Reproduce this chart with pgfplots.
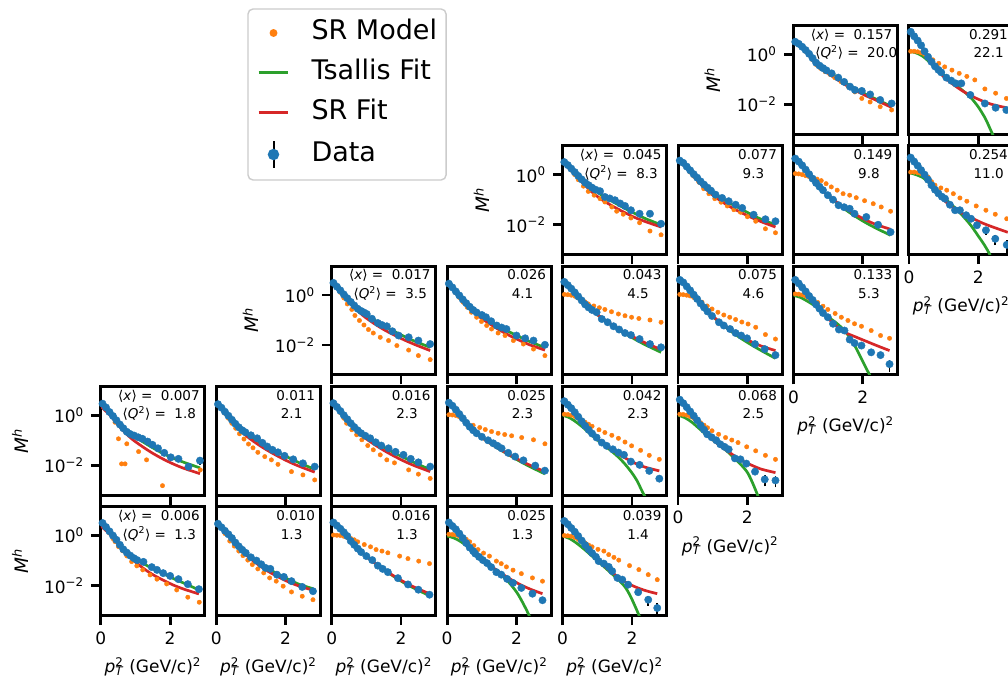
\documentclass[border=0pt]{standalone}
\usepackage{fontspec}
\setmainfont{DejaVu Sans}
\usepackage{pgfplots}
\pgfplotsset{compat=1.18}
\definecolor{cB}{HTML}{1F77B4}
\definecolor{cO}{HTML}{FF7F0E}
\definecolor{cG}{HTML}{2CA02C}
\definecolor{cR}{HTML}{D62728}
\newcommand\annfont{\fontsize{13.5}{16}\selectfont}
\newcommand\ann[2]{%
 \node[anchor=base east,inner sep=0pt,font=\annfont] (a) at (rel axis cs:0.952,0.874) {#1};
 \node[anchor=base west,inner sep=0pt,font=\annfont] at ([xshift=4.5pt,yshift=-18.6pt]a.base west) {#2};}
\newcommand\annx[2]{\ann{⟨\textit{x}⟩ = \ #1}{⟨\textit{Q}\textsuperscript{2}⟩ = \ #2}}
% y values are log10(M^h); the axis is labelled in powers of ten
\pgfplotsset{
 mypanel/.style={anchor=south west, scale only axis, width=104pt, height=108.8pt,
   xmin=0, xmax=3, ymin=-3.19, ymax=1.15,
   xtick={0,2}, xticklabels={{},{}}, ytick=\empty,
   xtick pos=left, ytick pos=left, tick align=outside,
   major tick length=9.5pt, tick style={line width=2.8pt, black},
   axis line style={line width=3pt},
   tick label style={font=\fontsize{17}{19}\selectfont},
   yticklabel style={xshift=-4pt}, xticklabel style={yshift=-3pt}},
 myylab/.style={ytick={-2,0}, yticklabels={{10\textsuperscript{−2}},{10\textsuperscript{0}}},
   ylabel={\textit{M}\textsuperscript{\textit{h}}},
   every axis y label/.style={at={(axis description cs:-0.777,0.5)}, rotate=90, anchor=center, font=\fontsize{18.5}{20}\selectfont}},
 myxlab/.style={xticklabels={0,2},
   xlabel={\textit{p}\rlap{\textsuperscript{2}}\textsubscript{\textit{T}} (GeV/c)\textsuperscript{2}},
   every axis x label/.style={at={(axis description cs:0.5,-0.47)}, anchor=center, font=\fontsize{17}{19}\selectfont}},
 pSM/.style={only marks, color=cO, mark=*, mark size=2.2pt, mark options={draw=none}},
 pTS/.style={no marks, color=cG, line width=2.7pt, smooth},
 pSF/.style={no marks, color=cR, line width=2.7pt, smooth},
 pDT/.style={only marks, color=cB, mark=*, mark size=3.7pt, mark options={draw=none}},
 pEB/.style={no marks, color=black, line width=1.6pt},
}
\begin{document}
\begin{tikzpicture}
\useasboundingbox (0,0) rectangle (1008pt,678pt);
\fill[white] (0,0) rectangle (1008pt,678pt);
\clip (0,0) rectangle (1008pt,678pt);

% ---------------- legend
\begin{axis}[hide axis, scale only axis, width=10pt, height=10pt, at={(247.3pt,669.7pt)}, anchor=north west, xmin=0, xmax=1, ymin=0, ymax=1,
 legend style={at={(0,1)}, anchor=north west, draw=black!20, line width=1.4pt, rounded corners=5pt, fill=white,
   inner xsep=9pt, inner ysep=11pt, row sep=14pt, column sep=0pt,
   font=\fontsize{27}{31}\selectfont, nodes={inner sep=0pt, text height=20pt, text depth=6pt}, legend cell align=left}]
\addlegendimage{legend image code/.code={\path (0pt,0pt) (52.3pt,0pt); \fill[cO] (15pt,0pt) circle (3.2pt);}}
\addlegendentry{SR Model}
\addlegendimage{legend image code/.code={\path (0pt,0pt) (52.3pt,0pt); \draw[cG, line width=3pt] (0pt,0pt) -- (29.7pt,0pt);}}
\addlegendentry{Tsallis Fit}
\addlegendimage{legend image code/.code={\path (0pt,0pt) (52.3pt,0pt); \draw[cR, line width=3pt] (0pt,0pt) -- (29.7pt,0pt);}}
\addlegendentry{SR Fit}
\addlegendimage{legend image code/.code={\path (0pt,0pt) (52.3pt,0pt); \draw[black, line width=2pt] (15pt,-13.5pt) -- (15pt,13.5pt); \fill[cB] (15pt,0pt) circle (5pt);}}
\addlegendentry{Data}
\end{axis}

% ================= row 5
\begin{axis}[mypanel, myylab, myxlab, at={(100.8pt,62.5pt)}]
\addplot[pSM] coordinates {(0.05,0.5)(0.15,0.32)(0.25,0.1)(0.35,-0.12)(0.41,-0.24)(0.51,-0.44)(0.63,-0.61)(0.75,-0.81)(0.89,-1.04)(1.04,-1.21)(1.21,-1.37)(1.42,-1.57)(1.62,-1.74)(1.9,-1.93)(2.19,-2.17)(2.51,-2.46)(2.84,-2.66)};
\addplot[pTS] coordinates {(0,0.52)(0.3,0.08)(0.6,-0.47)(0.9,-0.85)(1.2,-1.1)(1.5,-1.32)(1.8,-1.52)(2.1,-1.72)(2.4,-1.9)(2.83,-2.17)};
\addplot[pSF] coordinates {(0,0.38)(0.3,0.0)(0.6,-0.5)(0.9,-0.93)(1.2,-1.28)(1.5,-1.56)(1.8,-1.78)(2.1,-1.98)(2.4,-2.14)(2.83,-2.33)};
\addplot[pDT] coordinates {(0.05,0.5)(0.15,0.34)(0.25,0.17)(0.35,0.0)(0.45,-0.17)(0.55,-0.37)(0.65,-0.55)(0.75,-0.68)(0.85,-0.8)(0.95,-0.9)(1.05,-0.98)(1.23,-1.05)(1.47,-1.26)(1.62,-1.37)(1.8,-1.5)(2.0,-1.61)(2.24,-1.74)(2.51,-1.94)(2.83,-2.14)};
\annx{0.006}{1.3}
\end{axis}

\begin{axis}[mypanel, myxlab, at={(216.25pt,62.5pt)}]
\addplot[pSM] coordinates {(0.05,0.47)(0.15,0.3)(0.25,0.08)(0.39,-0.22)(0.52,-0.42)(0.65,-0.62)(0.77,-0.8)(0.91,-0.98)(1.04,-1.16)(1.2,-1.33)(1.37,-1.49)(1.54,-1.69)(1.73,-1.82)(1.93,-2.02)(2.17,-2.25)(2.48,-2.42)(2.79,-2.56)};
\addplot[pTS] coordinates {(0,0.5)(0.3,0.12)(0.6,-0.35)(0.9,-0.76)(1.2,-1.05)(1.5,-1.33)(1.8,-1.55)(2.1,-1.76)(2.4,-1.95)(2.79,-2.12)};
\addplot[pSF] coordinates {(0,0.48)(0.3,0.1)(0.6,-0.38)(0.9,-0.82)(1.2,-1.15)(1.5,-1.43)(1.8,-1.66)(2.1,-1.86)(2.4,-2.02)(2.79,-2.18)};
\addplot[pDT] coordinates {(0.05,0.47)(0.15,0.33)(0.25,0.19)(0.35,0.05)(0.45,-0.1)(0.55,-0.28)(0.65,-0.43)(0.75,-0.57)(0.85,-0.69)(1.0,-0.87)(1.16,-1.0)(1.3,-1.15)(1.42,-1.29)(1.56,-1.33)(1.75,-1.56)(1.95,-1.65)(2.17,-1.82)(2.48,-2.05)(2.79,-2.22)};
\ann{0.010}{1.3}
\end{axis}

\begin{axis}[mypanel, myxlab, at={(331.7pt,62.5pt)}]
\addplot[pSM] coordinates {(0.05,0.02)(0.15,0.01)(0.25,0.0)(0.35,-0.03)(0.45,-0.08)(0.55,-0.12)(0.65,-0.17)(0.75,-0.25)(0.94,-0.36)(1.12,-0.45)(1.28,-0.56)(1.45,-0.62)(1.62,-0.69)(1.96,-0.82)(2.2,-0.92)(2.51,-1.02)(2.82,-1.12)};
\addplot[pTS] coordinates {(0,0.55)(0.3,0.18)(0.6,-0.3)(0.9,-0.72)(1.2,-1.05)(1.5,-1.36)(1.8,-1.64)(2.1,-1.9)(2.4,-2.12)(2.82,-2.4)};
\addplot[pSF] coordinates {(0,0.55)(0.3,0.18)(0.6,-0.3)(0.9,-0.72)(1.2,-1.05)(1.5,-1.35)(1.8,-1.62)(2.1,-1.86)(2.4,-2.07)(2.82,-2.32)};
\addplot[pDT] coordinates {(0.05,0.52)(0.15,0.4)(0.25,0.27)(0.35,0.13)(0.45,-0.02)(0.55,-0.22)(0.65,-0.37)(0.75,-0.52)(0.85,-0.66)(1.0,-0.82)(1.17,-0.98)(1.33,-1.2)(1.47,-1.33)(1.62,-1.46)(1.91,-1.7)(2.2,-1.95)(2.5,-2.16)(2.82,-2.36)};
\ann{0.016}{1.3}
\end{axis}

\begin{axis}[mypanel, myxlab, at={(447.15pt,62.5pt)}]
\addplot[pSM] coordinates {(0.05,0.05)(0.15,0.04)(0.25,0.02)(0.35,-0.03)(0.45,-0.08)(0.55,-0.15)(0.65,-0.25)(0.77,-0.4)(0.89,-0.56)(1.05,-0.7)(1.22,-0.82)(1.42,-1.02)(1.56,-1.12)(1.71,-1.25)(1.9,-1.38)(2.14,-1.52)(2.46,-1.69)(2.75,-1.82)};
\addplot[pTS] coordinates {(0,-0.02)(0.2,-0.1)(0.4,-0.25)(0.6,-0.45)(0.8,-0.68)(1.0,-0.92)(1.2,-1.15)(1.4,-1.38)(1.6,-1.62)(1.8,-1.9)(2.0,-2.25)(2.15,-2.6)(2.3,-3.0)(2.4,-3.3)};
\addplot[pSF] coordinates {(0,0.55)(0.3,0.15)(0.6,-0.35)(0.9,-0.78)(1.2,-1.15)(1.5,-1.45)(1.8,-1.72)(2.1,-1.95)(2.4,-2.14)(2.75,-2.32)};
\addplot[pDT] coordinates {(0.05,0.52)(0.15,0.38)(0.25,0.25)(0.35,0.08)(0.45,-0.1)(0.55,-0.3)(0.65,-0.48)(0.75,-0.62)(0.81,-0.72)(0.92,-0.85)(1.03,-0.98)(1.15,-1.1)(1.27,-1.26)(1.42,-1.46)(1.56,-1.56)(1.73,-1.73)(1.9,-1.89)(2.14,-2.09)(2.46,-2.32)(2.75,-2.58)};
\ann{0.025}{1.3}
\end{axis}

\begin{axis}[mypanel, myxlab, at={(562.6pt,62.5pt)}]
\addplot[pSM] coordinates {(0.05,0.0)(0.15,-0.01)(0.25,-0.03)(0.35,-0.08)(0.45,-0.15)(0.55,-0.22)(0.65,-0.3)(0.75,-0.38)(0.85,-0.45)(1.02,-0.55)(1.19,-0.62)(1.33,-0.76)(1.48,-0.87)(1.62,-0.98)(1.93,-1.2)(2.2,-1.36)(2.47,-1.56)(2.73,-1.76)};
\addplot[pTS] coordinates {(0,-0.02)(0.2,-0.12)(0.4,-0.3)(0.6,-0.52)(0.8,-0.76)(1.0,-1.0)(1.2,-1.25)(1.4,-1.5)(1.6,-1.75)(1.8,-2.05)(1.95,-2.4)(2.1,-2.85)(2.24,-3.3)};
\addplot[pSF] coordinates {(0,0.6)(0.3,0.2)(0.6,-0.3)(0.9,-0.78)(1.2,-1.2)(1.5,-1.55)(1.8,-1.85)(2.1,-2.05)(2.4,-2.2)(2.73,-2.32)};
\addplot[pEB] coordinates {(2.47,-2.81)(2.47,-2.40)};
\addplot[pEB] coordinates {(2.73,-3.23)(2.73,-2.70)};
\addplot[pDT] coordinates {(0.05,0.58)(0.15,0.45)(0.25,0.3)(0.35,0.15)(0.45,-0.02)(0.55,-0.2)(0.65,-0.38)(0.75,-0.55)(0.85,-0.7)(0.96,-0.85)(1.04,-1.02)(1.19,-1.12)(1.33,-1.25)(1.43,-1.42)(1.58,-1.69)(1.72,-1.76)(1.89,-1.96)(2.18,-2.26)(2.47,-2.56)(2.73,-2.89)};
\ann{0.039}{1.4}
\end{axis}

% ================= row 4
\begin{axis}[mypanel, myylab, at={(100.8pt,182.8pt)}]
\addplot[pSM] coordinates {(0.05,0.46)(0.15,0.3)(0.25,0.1)(0.41,-0.28)(0.51,-0.94)(0.6,-1.94)(0.7,-1.94)(0.75,-1.14)(1.09,-1.45)(1.32,-1.78)(1.78,-2.81)(2.87,-2.18)};
\addplot[pTS] coordinates {(0,0.5)(0.3,0.05)(0.6,-0.45)(0.9,-0.78)(1.2,-1.05)(1.5,-1.3)(1.8,-1.53)(2.1,-1.72)(2.4,-1.88)(2.86,-2.1)};
\addplot[pSF] coordinates {(0,0.35)(0.3,-0.05)(0.6,-0.55)(0.9,-0.95)(1.2,-1.25)(1.5,-1.52)(1.8,-1.75)(2.1,-1.95)(2.4,-2.12)(2.86,-2.33)};
\addplot[pEB] coordinates {(2.86,-1.98)(2.86,-1.69)};
\addplot[pDT] coordinates {(0.05,0.46)(0.15,0.31)(0.25,0.13)(0.35,-0.03)(0.45,-0.2)(0.55,-0.37)(0.65,-0.52)(0.75,-0.66)(0.85,-0.75)(0.96,-0.81)(1.08,-0.88)(1.2,-0.94)(1.35,-1.05)(1.49,-1.18)(1.65,-1.32)(1.83,-1.5)(2.02,-1.68)(2.24,-1.74)(2.53,-2.05)(2.86,-1.81)};
\annx{0.007}{1.8}
\end{axis}

\begin{axis}[mypanel, at={(216.25pt,182.8pt)}]
\addplot[pSM] coordinates {(0.05,0.44)(0.15,0.28)(0.25,0.08)(0.35,-0.12)(0.45,-0.32)(0.56,-0.52)(0.67,-0.74)(0.8,-0.95)(0.93,-1.15)(1.06,-1.3)(1.2,-1.48)(1.4,-1.65)(1.59,-1.78)(1.78,-1.96)(2.17,-2.25)(2.5,-2.38)(2.84,-2.58)};
\addplot[pTS] coordinates {(0,0.47)(0.3,0.05)(0.6,-0.42)(0.9,-0.78)(1.2,-1.04)(1.5,-1.28)(1.8,-1.5)(2.1,-1.7)(2.4,-1.9)(2.84,-2.16)};
\addplot[pSF] coordinates {(0,0.47)(0.3,0.02)(0.6,-0.46)(0.9,-0.86)(1.2,-1.16)(1.5,-1.42)(1.8,-1.65)(2.1,-1.86)(2.4,-2.04)(2.84,-2.27)};
\addplot[pDT] coordinates {(0.05,0.44)(0.15,0.3)(0.25,0.14)(0.35,-0.02)(0.45,-0.18)(0.55,-0.34)(0.65,-0.48)(0.75,-0.6)(0.84,-0.68)(1.0,-0.8)(1.18,-0.92)(1.33,-1.1)(1.47,-1.25)(1.62,-1.38)(1.78,-1.48)(1.97,-1.62)(2.22,-1.76)(2.5,-1.92)(2.84,-2.05)};
\ann{0.011}{2.1}
\end{axis}

\begin{axis}[mypanel, at={(331.7pt,182.8pt)}]
\addplot[pSM] coordinates {(0.05,0.48)(0.15,0.3)(0.25,0.1)(0.35,-0.12)(0.43,-0.32)(0.58,-0.58)(0.72,-0.78)(0.87,-0.98)(1.04,-1.21)(1.2,-1.38)(1.4,-1.58)(1.59,-1.78)(1.81,-1.9)(2.22,-2.18)(2.5,-2.35)(2.84,-2.52)};
\addplot[pTS] coordinates {(0,0.5)(0.3,0.08)(0.6,-0.4)(0.9,-0.76)(1.2,-1.03)(1.5,-1.27)(1.8,-1.5)(2.1,-1.7)(2.4,-1.9)(2.84,-2.17)};
\addplot[pSF] coordinates {(0,0.5)(0.3,0.06)(0.6,-0.44)(0.9,-0.84)(1.2,-1.14)(1.5,-1.4)(1.8,-1.63)(2.1,-1.84)(2.4,-2.02)(2.84,-2.25)};
\addplot[pDT] coordinates {(0.05,0.48)(0.15,0.33)(0.25,0.17)(0.35,0.0)(0.45,-0.16)(0.55,-0.32)(0.65,-0.47)(0.75,-0.6)(0.85,-0.72)(0.97,-0.82)(1.11,-0.92)(1.27,-1.08)(1.43,-1.21)(1.64,-1.32)(1.84,-1.46)(2.07,-1.58)(2.28,-1.74)(2.5,-1.88)(2.84,-2.05)};
\ann{0.016}{2.3}
\end{axis}

\begin{axis}[mypanel, at={(447.15pt,182.8pt)}]
\addplot[pSM] coordinates {(0.05,0.02)(0.15,0.01)(0.25,-0.01)(0.35,-0.06)(0.45,-0.16)(0.56,-0.28)(0.75,-0.4)(0.94,-0.49)(1.1,-0.57)(1.28,-0.65)(1.47,-0.72)(1.66,-0.77)(1.86,-0.82)(2.15,-0.89)(2.49,-0.98)(2.82,-1.14)};
\addplot[pTS] coordinates {(0,0.52)(0.3,0.12)(0.6,-0.38)(0.9,-0.78)(1.2,-1.08)(1.5,-1.35)(1.8,-1.6)(2.1,-1.84)(2.4,-2.06)(2.82,-2.34)};
\addplot[pSF] coordinates {(0,0.52)(0.3,0.12)(0.6,-0.38)(0.9,-0.78)(1.2,-1.08)(1.5,-1.34)(1.8,-1.58)(2.1,-1.8)(2.4,-2.0)(2.82,-2.25)};
\addplot[pDT] coordinates {(0.05,0.5)(0.15,0.38)(0.25,0.22)(0.35,0.05)(0.45,-0.12)(0.55,-0.3)(0.65,-0.46)(0.75,-0.6)(0.85,-0.72)(1.0,-0.86)(1.18,-1.0)(1.33,-1.12)(1.45,-1.22)(1.57,-1.32)(1.76,-1.5)(1.96,-1.65)(2.2,-1.8)(2.54,-2.01)(2.82,-2.21)};
\ann{0.025}{2.3}
\end{axis}

\begin{axis}[mypanel, at={(562.6pt,182.8pt)}]
\addplot[pSM] coordinates {(0.05,0.04)(0.15,0.03)(0.25,0.0)(0.35,-0.05)(0.45,-0.12)(0.55,-0.2)(0.65,-0.28)(0.75,-0.36)(0.85,-0.44)(1.05,-0.58)(1.22,-0.69)(1.42,-0.8)(1.61,-0.92)(1.8,-1.07)(1.99,-1.22)(2.25,-1.4)(2.5,-1.6)(2.79,-1.76)};
\addplot[pTS] coordinates {(0,0.0)(0.2,-0.1)(0.4,-0.28)(0.6,-0.5)(0.8,-0.75)(1.0,-0.98)(1.2,-1.2)(1.4,-1.42)(1.6,-1.66)(1.8,-1.95)(2.0,-2.3)(2.15,-2.62)(2.3,-3.05)(2.4,-3.3)};
\addplot[pSF] coordinates {(0,0.58)(0.3,0.18)(0.6,-0.32)(0.9,-0.8)(1.2,-1.15)(1.5,-1.45)(1.8,-1.7)(2.1,-1.92)(2.4,-2.08)(2.79,-2.22)};
\addplot[pDT] coordinates {(0.05,0.56)(0.15,0.42)(0.25,0.28)(0.35,0.12)(0.45,-0.06)(0.55,-0.24)(0.65,-0.42)(0.75,-0.58)(0.85,-0.73)(0.98,-0.89)(1.13,-1.09)(1.27,-1.22)(1.45,-1.36)(1.61,-1.49)(1.77,-1.58)(1.97,-1.85)(2.22,-1.98)(2.5,-2.22)(2.79,-2.53)};
\ann{0.042}{2.3}
\end{axis}

\begin{axis}[mypanel, myxlab, at={(678.05pt,182.8pt)}]
\addplot[pSM] coordinates {(0.05,0.04)(0.15,0.03)(0.25,0.0)(0.35,-0.05)(0.45,-0.12)(0.55,-0.2)(0.65,-0.3)(0.75,-0.4)(0.85,-0.5)(0.98,-0.62)(1.17,-0.76)(1.37,-0.89)(1.55,-0.99)(1.73,-1.09)(1.98,-1.26)(2.24,-1.42)(2.52,-1.6)(2.81,-1.76)};
\addplot[pTS] coordinates {(0,0.0)(0.2,-0.1)(0.4,-0.28)(0.6,-0.52)(0.8,-0.76)(1.0,-0.98)(1.2,-1.2)(1.4,-1.42)(1.6,-1.68)(1.8,-1.95)(2.0,-2.28)(2.15,-2.7)(2.3,-3.2)(2.4,-3.5)};
\addplot[pSF] coordinates {(0,0.62)(0.3,0.2)(0.6,-0.32)(0.9,-0.84)(1.2,-1.2)(1.5,-1.5)(1.8,-1.78)(2.1,-1.98)(2.4,-2.15)(2.81,-2.29)};
\addplot[pEB] coordinates {(2.5,-2.84)(2.5,-2.39)};
\addplot[pEB] coordinates {(2.81,-2.88)(2.81,-2.43)};
\addplot[pDT] coordinates {(0.05,0.62)(0.15,0.48)(0.25,0.32)(0.35,0.15)(0.45,-0.02)(0.55,-0.2)(0.65,-0.4)(0.75,-0.58)(0.84,-0.76)(0.97,-0.88)(1.1,-1.0)(1.22,-1.16)(1.34,-1.26)(1.46,-1.36)(1.64,-1.72)(1.8,-1.76)(1.97,-1.93)(2.22,-2.25)(2.5,-2.56)(2.81,-2.6)};
\ann{0.068}{2.5}
\end{axis}

% ================= row 3
\begin{axis}[mypanel, myylab, at={(331.7pt,303.1pt)}]
\addplot[pSM] coordinates {(0.05,0.48)(0.15,0.3)(0.25,0.1)(0.35,-0.12)(0.45,-0.36)(0.58,-0.58)(0.67,-0.82)(0.8,-1.02)(0.93,-1.2)(1.06,-1.38)(1.2,-1.52)(1.4,-1.69)(1.64,-1.82)(1.88,-2.02)(2.22,-2.2)(2.5,-2.42)(2.84,-2.58)};
\addplot[pTS] coordinates {(0,0.5)(0.3,0.1)(0.6,-0.36)(0.9,-0.7)(1.2,-0.98)(1.5,-1.22)(1.8,-1.45)(2.1,-1.66)(2.4,-1.85)(2.84,-2.09)};
\addplot[pSF] coordinates {(0,0.48)(0.3,0.05)(0.6,-0.42)(0.9,-0.82)(1.2,-1.12)(1.5,-1.38)(1.8,-1.6)(2.1,-1.8)(2.4,-1.98)(2.84,-2.22)};
\addplot[pDT] coordinates {(0.05,0.48)(0.15,0.33)(0.25,0.18)(0.35,0.02)(0.45,-0.13)(0.55,-0.28)(0.65,-0.42)(0.75,-0.55)(0.85,-0.64)(0.93,-0.7)(1.01,-0.76)(1.16,-0.95)(1.33,-1.12)(1.45,-1.2)(1.59,-1.25)(1.75,-1.45)(1.93,-1.62)(2.22,-1.69)(2.5,-1.82)(2.84,-1.96)};
\annx{0.017}{3.5}
\end{axis}

\begin{axis}[mypanel, at={(447.15pt,303.1pt)}]
\addplot[pSM] coordinates {(0.05,0.45)(0.15,0.28)(0.25,0.08)(0.35,-0.1)(0.46,-0.29)(0.58,-0.49)(0.7,-0.69)(0.85,-0.89)(0.99,-1.06)(1.14,-1.22)(1.28,-1.36)(1.47,-1.52)(1.67,-1.62)(1.91,-1.82)(2.2,-1.96)(2.49,-2.16)(2.82,-2.42)};
\addplot[pTS] coordinates {(0,0.47)(0.3,0.05)(0.6,-0.42)(0.9,-0.76)(1.2,-1.02)(1.5,-1.26)(1.8,-1.48)(2.1,-1.68)(2.4,-1.87)(2.82,-2.1)};
\addplot[pSF] coordinates {(0,0.47)(0.3,0.02)(0.6,-0.46)(0.9,-0.84)(1.2,-1.13)(1.5,-1.39)(1.8,-1.62)(2.1,-1.82)(2.4,-2.0)(2.82,-2.2)};
\addplot[pDT] coordinates {(0.05,0.45)(0.15,0.3)(0.25,0.14)(0.35,-0.02)(0.45,-0.18)(0.55,-0.33)(0.65,-0.47)(0.75,-0.6)(0.85,-0.7)(1.0,-0.8)(1.12,-0.89)(1.27,-1.05)(1.43,-1.22)(1.57,-1.3)(1.71,-1.36)(2.0,-1.62)(2.25,-1.73)(2.49,-1.82)(2.82,-1.99)};
\ann{0.026}{4.1}
\end{axis}

\begin{axis}[mypanel, at={(562.6pt,303.1pt)}]
\addplot[pSM] coordinates {(0.05,0.02)(0.15,0.01)(0.25,-0.01)(0.35,-0.05)(0.45,-0.12)(0.55,-0.2)(0.65,-0.28)(0.74,-0.36)(0.9,-0.44)(1.06,-0.51)(1.22,-0.58)(1.41,-0.67)(1.61,-0.76)(1.8,-0.83)(1.99,-0.89)(2.2,-0.94)(2.52,-1.0)(2.84,-1.09)};
\addplot[pTS] coordinates {(0,0.55)(0.3,0.15)(0.6,-0.32)(0.9,-0.68)(1.2,-0.99)(1.5,-1.28)(1.8,-1.54)(2.1,-1.78)(2.4,-2.0)(2.84,-2.29)};
\addplot[pSF] coordinates {(0,0.55)(0.3,0.15)(0.6,-0.32)(0.9,-0.68)(1.2,-0.98)(1.5,-1.26)(1.8,-1.5)(2.1,-1.72)(2.4,-1.92)(2.84,-2.18)};
\addplot[pDT] coordinates {(0.05,0.52)(0.15,0.39)(0.25,0.25)(0.35,0.1)(0.45,-0.06)(0.55,-0.22)(0.65,-0.38)(0.75,-0.5)(0.85,-0.6)(0.98,-0.69)(1.13,-0.96)(1.3,-1.09)(1.47,-1.25)(1.63,-1.38)(1.8,-1.52)(1.97,-1.6)(2.22,-1.76)(2.52,-1.96)(2.84,-2.09)};
\ann{0.043}{4.5}
\end{axis}

\begin{axis}[mypanel, at={(678.05pt,303.1pt)}]
\addplot[pSM] coordinates {(0.05,0.02)(0.15,0.01)(0.25,-0.01)(0.35,-0.04)(0.45,-0.1)(0.55,-0.16)(0.69,-0.29)(0.84,-0.44)(0.98,-0.56)(1.15,-0.69)(1.32,-0.8)(1.49,-0.89)(1.66,-0.98)(1.84,-1.08)(2.02,-1.16)(2.24,-1.29)(2.52,-1.58)(2.81,-1.76)};
\addplot[pTS] coordinates {(0,0.62)(0.3,0.25)(0.6,-0.25)(0.9,-0.72)(1.2,-1.1)(1.5,-1.42)(1.8,-1.72)(2.1,-1.98)(2.4,-2.22)(2.81,-2.53)};
\addplot[pSF] coordinates {(0,0.62)(0.3,0.25)(0.6,-0.25)(0.9,-0.72)(1.2,-1.08)(1.5,-1.38)(1.8,-1.64)(2.1,-1.86)(2.4,-2.04)(2.81,-2.22)};
\addplot[pDT] coordinates {(0.05,0.6)(0.15,0.5)(0.25,0.34)(0.35,0.18)(0.45,0.01)(0.55,-0.16)(0.65,-0.34)(0.75,-0.5)(0.85,-0.66)(0.98,-0.84)(1.18,-1.09)(1.32,-1.22)(1.5,-1.36)(1.66,-1.52)(1.82,-1.62)(1.99,-1.73)(2.22,-1.96)(2.5,-2.16)(2.81,-2.4)};
\ann{0.075}{4.6}
\end{axis}

\begin{axis}[mypanel, myxlab, at={(793.5pt,303.1pt)}]
\addplot[pSM] coordinates {(0.05,0.04)(0.15,0.03)(0.25,0.0)(0.35,-0.05)(0.45,-0.12)(0.55,-0.2)(0.7,-0.3)(0.85,-0.45)(0.99,-0.58)(1.2,-0.74)(1.38,-0.89)(1.57,-1.02)(1.76,-1.15)(1.96,-1.25)(2.24,-1.42)(2.51,-1.62)(2.77,-1.73)};
\addplot[pTS] coordinates {(0,-0.02)(0.2,-0.1)(0.4,-0.25)(0.6,-0.42)(0.8,-0.65)(1.0,-0.88)(1.2,-1.08)(1.4,-1.32)(1.6,-1.65)(1.75,-1.98)(1.9,-2.38)(2.05,-2.8)(2.2,-3.2)(2.3,-3.45)};
\addplot[pSF] coordinates {(0,0.62)(0.3,0.22)(0.6,-0.28)(0.9,-0.78)(1.2,-1.2)(1.5,-1.5)(1.8,-1.68)(2.1,-1.85)(2.4,-2.02)(2.77,-2.22)};
\addplot[pEB] coordinates {(2.77,-3.08)(2.77,-2.58)};
\addplot[pDT] coordinates {(0.05,0.6)(0.15,0.46)(0.25,0.3)(0.35,0.14)(0.45,-0.04)(0.55,-0.2)(0.65,-0.38)(0.75,-0.55)(0.85,-0.72)(0.99,-0.89)(1.14,-1.15)(1.31,-1.38)(1.47,-1.42)(1.62,-1.78)(1.76,-1.92)(1.96,-2.02)(2.24,-2.29)(2.51,-2.4)(2.77,-2.76)};
\ann{0.133}{5.3}
\end{axis}

% ================= row 2
\begin{axis}[mypanel, myylab, at={(562.6pt,423.4pt)}]
\addplot[pSM] coordinates {(0.05,0.5)(0.15,0.36)(0.25,0.18)(0.35,0.0)(0.45,-0.2)(0.6,-0.46)(0.74,-0.67)(0.91,-0.82)(1.08,-0.96)(1.22,-1.09)(1.42,-1.29)(1.56,-1.46)(1.75,-1.58)(1.97,-1.73)(2.22,-1.92)(2.52,-2.25)(2.84,-2.4)};
\addplot[pTS] coordinates {(0,0.52)(0.3,0.18)(0.6,-0.24)(0.9,-0.6)(1.2,-0.88)(1.5,-1.12)(1.8,-1.35)(2.1,-1.56)(2.4,-1.76)(2.84,-2.0)};
\addplot[pSF] coordinates {(0,0.5)(0.3,0.1)(0.6,-0.36)(0.9,-0.76)(1.2,-1.06)(1.5,-1.3)(1.8,-1.52)(2.1,-1.72)(2.4,-1.88)(2.84,-2.09)};
\addplot[pDT] coordinates {(0.05,0.5)(0.15,0.38)(0.25,0.24)(0.35,0.1)(0.45,-0.05)(0.55,-0.19)(0.65,-0.32)(0.75,-0.42)(0.85,-0.52)(0.95,-0.6)(1.08,-0.66)(1.22,-0.89)(1.36,-0.95)(1.51,-1.02)(1.66,-1.15)(1.8,-1.25)(1.97,-1.42)(2.22,-1.56)(2.52,-1.56)(2.84,-1.96)};
\annx{0.045}{8.3}
\end{axis}

\begin{axis}[mypanel, at={(678.05pt,423.4pt)}]
\addplot[pSM] coordinates {(0.05,0.56)(0.15,0.44)(0.25,0.28)(0.35,0.1)(0.45,-0.06)(0.6,-0.3)(0.74,-0.56)(0.89,-0.76)(1.06,-0.96)(1.24,-1.1)(1.42,-1.25)(1.61,-1.4)(1.8,-1.5)(2.0,-1.68)(2.24,-1.86)(2.52,-2.16)(2.81,-2.32)};
\addplot[pTS] coordinates {(0,0.58)(0.3,0.22)(0.6,-0.22)(0.9,-0.6)(1.2,-0.9)(1.5,-1.14)(1.8,-1.36)(2.1,-1.58)(2.4,-1.78)(2.81,-2.0)};
\addplot[pSF] coordinates {(0,0.58)(0.3,0.18)(0.6,-0.3)(0.9,-0.7)(1.2,-1.02)(1.5,-1.28)(1.8,-1.5)(2.1,-1.7)(2.4,-1.88)(2.81,-2.09)};
\addplot[pDT] coordinates {(0.05,0.56)(0.15,0.47)(0.25,0.32)(0.35,0.17)(0.45,0.02)(0.55,-0.12)(0.65,-0.27)(0.75,-0.4)(0.85,-0.52)(0.95,-0.64)(1.08,-0.8)(1.27,-0.93)(1.46,-1.06)(1.66,-1.2)(1.85,-1.33)(2.18,-1.6)(2.52,-1.78)(2.81,-1.86)};
\ann{0.077}{9.3}
\end{axis}

\begin{axis}[mypanel, at={(793.5pt,423.4pt)}]
\addplot[pSM] coordinates {(0.05,0.04)(0.15,0.03)(0.25,0.0)(0.35,-0.04)(0.45,-0.08)(0.55,-0.12)(0.68,-0.18)(0.8,-0.24)(0.94,-0.36)(1.09,-0.49)(1.26,-0.62)(1.43,-0.76)(1.62,-0.82)(1.81,-0.92)(2.05,-1.04)(2.3,-1.16)(2.53,-1.29)(2.8,-1.46)};
\addplot[pTS] coordinates {(0,0.65)(0.3,0.28)(0.6,-0.22)(0.9,-0.7)(1.2,-1.08)(1.5,-1.4)(1.8,-1.68)(2.1,-1.93)(2.4,-2.15)(2.8,-2.42)};
\addplot[pSF] coordinates {(0,0.65)(0.3,0.28)(0.6,-0.22)(0.9,-0.7)(1.2,-1.05)(1.5,-1.35)(1.8,-1.6)(2.1,-1.82)(2.4,-2.0)(2.8,-2.18)};
\addplot[pDT] coordinates {(0.05,0.64)(0.15,0.52)(0.25,0.37)(0.35,0.2)(0.45,0.02)(0.55,-0.16)(0.65,-0.33)(0.75,-0.48)(0.85,-0.62)(0.99,-0.82)(1.14,-1.0)(1.3,-1.22)(1.46,-1.3)(1.62,-1.36)(1.76,-1.56)(2.1,-1.69)(2.44,-2.0)(2.8,-2.29)};
\ann{0.149}{9.8}
\end{axis}

\begin{axis}[mypanel, myxlab, at={(908.95pt,423.4pt)}]
\addplot[pSM] coordinates {(0.05,0.1)(0.15,0.1)(0.25,0.08)(0.35,0.04)(0.45,-0.03)(0.55,-0.1)(0.65,-0.28)(0.75,-0.42)(0.92,-0.53)(1.09,-0.62)(1.28,-0.76)(1.47,-0.93)(1.67,-1.06)(1.94,-1.25)(2.22,-1.42)(2.49,-1.58)(2.82,-1.76)};
\addplot[pTS] coordinates {(0,0.08)(0.2,0.0)(0.4,-0.12)(0.6,-0.35)(0.8,-0.62)(1.0,-0.9)(1.2,-1.16)(1.4,-1.42)(1.6,-1.72)(1.8,-2.05)(2.0,-2.45)(2.15,-2.75)(2.3,-3.1)(2.4,-3.4)};
\addplot[pSF] coordinates {(0,0.7)(0.3,0.3)(0.6,-0.3)(0.9,-0.86)(1.2,-1.25)(1.5,-1.52)(1.8,-1.72)(2.1,-1.92)(2.4,-2.08)(2.85,-2.3)};
\addplot[pEB] coordinates {(2.22,-2.39)(2.22,-2.10)};
\addplot[pEB] coordinates {(2.49,-2.81)(2.49,-2.40)};
\addplot[pEB] coordinates {(2.82,-3.11)(2.82,-2.62)};
\addplot[pDT] coordinates {(0.05,0.68)(0.15,0.52)(0.25,0.36)(0.35,0.18)(0.45,0.0)(0.55,-0.2)(0.65,-0.42)(0.75,-0.6)(0.85,-0.75)(0.95,-0.88)(1.04,-0.96)(1.18,-1.2)(1.33,-1.42)(1.47,-1.42)(1.65,-1.62)(1.79,-1.76)(1.96,-2.02)(2.22,-2.22)(2.49,-2.56)(2.82,-2.8)};
\ann{0.254}{11.0}
\end{axis}

% ================= row 1
\begin{axis}[mypanel, myylab, at={(793.5pt,543.7pt)}]
\addplot[pSM] coordinates {(0.05,0.48)(0.15,0.4)(0.25,0.28)(0.35,0.12)(0.45,-0.02)(0.55,-0.22)(0.66,-0.42)(0.78,-0.56)(0.91,-0.69)(1.05,-0.8)(1.19,-0.93)(1.38,-1.1)(1.58,-1.29)(1.77,-1.5)(1.97,-1.76)(2.21,-1.9)(2.5,-2.09)(2.83,-2.22)};
\addplot[pTS] coordinates {(0,0.5)(0.3,0.22)(0.6,-0.28)(0.9,-0.58)(1.2,-0.86)(1.5,-1.14)(1.8,-1.38)(2.1,-1.6)(2.4,-1.8)(2.83,-2.08)};
\addplot[pSF] coordinates {(0,0.5)(0.3,0.2)(0.6,-0.3)(0.9,-0.66)(1.2,-0.95)(1.5,-1.22)(1.8,-1.45)(2.1,-1.66)(2.4,-1.84)(2.83,-2.12)};
\addplot[pDT] coordinates {(0.05,0.5)(0.15,0.42)(0.25,0.3)(0.35,0.17)(0.45,0.02)(0.55,-0.15)(0.65,-0.33)(0.75,-0.45)(0.85,-0.55)(0.95,-0.64)(1.1,-0.76)(1.29,-0.93)(1.46,-1.1)(1.63,-1.29)(1.77,-1.42)(1.97,-1.46)(2.21,-1.6)(2.5,-1.82)(2.83,-1.96)};
\annx{0.157}{20.0}
\end{axis}

\begin{axis}[mypanel, at={(908.95pt,543.7pt)}]
\addplot[pSM] coordinates {(0.05,0.12)(0.15,0.12)(0.25,0.1)(0.35,0.06)(0.45,0.0)(0.55,-0.08)(0.69,-0.22)(0.86,-0.36)(1.03,-0.5)(1.24,-0.63)(1.45,-0.76)(1.67,-0.88)(1.9,-1.02)(2.19,-1.38)(2.5,-1.55)(2.81,-1.76)};
\addplot[pTS] coordinates {(0,0.12)(0.2,0.06)(0.4,-0.08)(0.6,-0.32)(0.8,-0.58)(1.0,-0.82)(1.2,-1.05)(1.4,-1.28)(1.6,-1.5)(1.8,-1.75)(2.0,-2.1)(2.2,-2.55)(2.35,-3.0)(2.45,-3.3)};
\addplot[pSF] coordinates {(0,0.92)(0.3,0.4)(0.6,-0.2)(0.9,-0.75)(1.2,-1.12)(1.5,-1.42)(1.8,-1.66)(2.1,-1.85)(2.4,-2.0)(2.81,-2.13)};
\addplot[pEB] coordinates {(2.19,-2.10)(2.19,-1.85)};
\addplot[pEB] coordinates {(2.5,-2.27)(2.5,-2.03)};
\addplot[pEB] coordinates {(2.81,-2.34)(2.81,-2.12)};
\addplot[pDT] coordinates {(0.05,0.9)(0.15,0.72)(0.25,0.55)(0.35,0.36)(0.45,0.12)(0.55,-0.1)(0.65,-0.3)(0.75,-0.48)(0.85,-0.62)(0.93,-0.72)(1.08,-0.93)(1.22,-1.05)(1.35,-1.16)(1.51,-1.16)(1.77,-1.62)(2.19,-1.96)(2.5,-2.13)(2.81,-2.22)};
\ann{0.291}{22.1}
\end{axis}

\end{tikzpicture}
\end{document}
